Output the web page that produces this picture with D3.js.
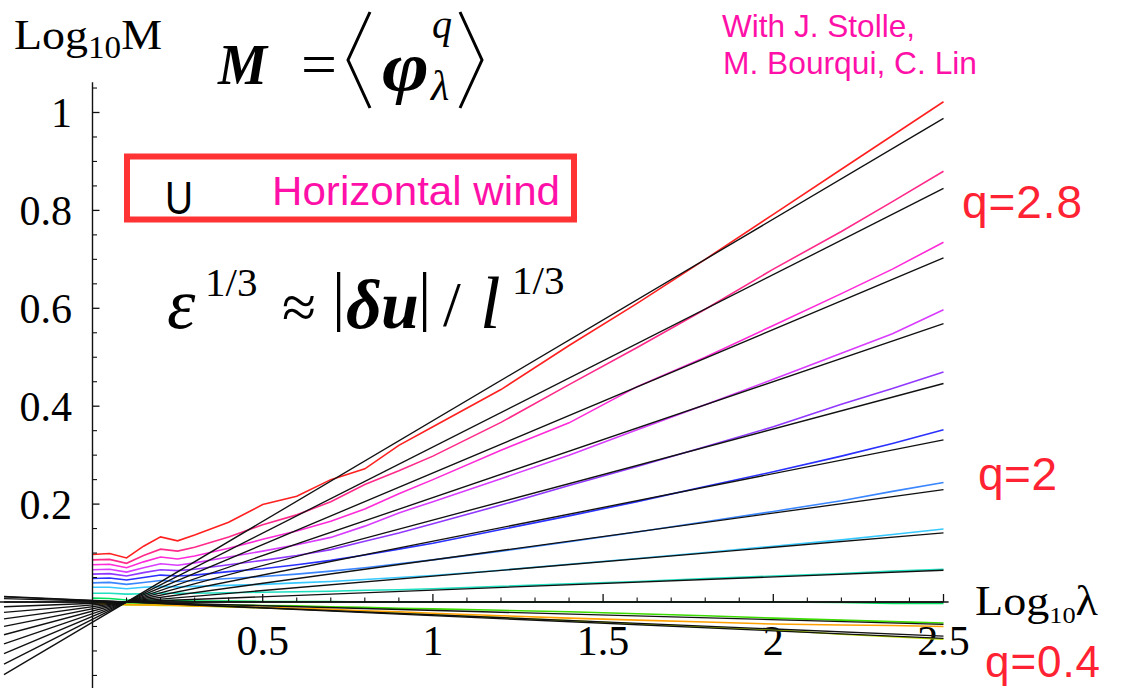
<!DOCTYPE html>
<html>
<head>
<meta charset="utf-8">
<script src="https://d3js.org/d3.v7.min.js"></script>
<style>
  html, body { margin: 0; padding: 0; background: #fff; }
  svg { display: block; }
</style>
</head>
<body>
<svg id="chart" width="1135" height="688"></svg>
<script>
// Scale axis (log10 of the scale ratio lambda)
const logLambda = [0, 0.05, 0.1, 0.15, 0.2, 0.25, 0.3, 0.4, 0.5, 0.6, 0.7, 0.8, 0.9, 1.0, 1.2, 1.4, 1.6, 1.8, 2.0, 2.2, 2.35, 2.5];

// Moment order of each curve
const qValues = [2.8, 2.6, 2.4, 2.2, 2.0, 1.8, 1.6, 1.4, 1.2, 1.0, 0.8, 0.6, 0.4];

// log10 M(lambda) for each moment order
const m28 = [0.097, 0.099, 0.090, 0.114, 0.133, 0.125, 0.137, 0.163, 0.199, 0.216, 0.250, 0.272, 0.320, 0.358, 0.434, 0.524, 0.610, 0.700, 0.792, 0.884, 0.953, 1.022];
const m26 = [0.086, 0.087, 0.079, 0.095, 0.108, 0.104, 0.112, 0.133, 0.158, 0.178, 0.205, 0.240, 0.268, 0.298, 0.367, 0.444, 0.520, 0.598, 0.680, 0.757, 0.818, 0.880];
const m24 = [0.076, 0.077, 0.070, 0.082, 0.092, 0.088, 0.094, 0.110, 0.128, 0.145, 0.165, 0.190, 0.221, 0.250, 0.310, 0.366, 0.440, 0.500, 0.565, 0.630, 0.680, 0.735];
const m22 = [0.066, 0.067, 0.061, 0.070, 0.078, 0.075, 0.080, 0.092, 0.104, 0.117, 0.132, 0.155, 0.182, 0.205, 0.252, 0.300, 0.352, 0.403, 0.455, 0.508, 0.548, 0.597];
const m20 = [0.057, 0.058, 0.053, 0.060, 0.066, 0.064, 0.067, 0.076, 0.085, 0.095, 0.107, 0.124, 0.141, 0.160, 0.198, 0.238, 0.277, 0.317, 0.358, 0.404, 0.436, 0.470];
const m18 = [0.048, 0.049, 0.045, 0.050, 0.055, 0.053, 0.055, 0.062, 0.068, 0.076, 0.085, 0.096, 0.108, 0.120, 0.148, 0.176, 0.205, 0.236, 0.266, 0.298, 0.324, 0.352];
const m16 = [0.039, 0.040, 0.036, 0.040, 0.044, 0.042, 0.044, 0.048, 0.052, 0.057, 0.063, 0.070, 0.078, 0.086, 0.104, 0.123, 0.143, 0.164, 0.185, 0.207, 0.226, 0.244];
const m14 = [0.030, 0.030, 0.027, 0.030, 0.032, 0.031, 0.032, 0.034, 0.036, 0.039, 0.042, 0.046, 0.050, 0.054, 0.065, 0.077, 0.089, 0.101, 0.114, 0.127, 0.138, 0.149];
const m12 = [0.018, 0.018, 0.016, 0.017, 0.018, 0.018, 0.018, 0.019, 0.020, 0.021, 0.022, 0.024, 0.025, 0.027, 0.032, 0.037, 0.042, 0.048, 0.053, 0.058, 0.063, 0.067];
const m10 = [0.008, 0.007, 0.004, 0.004, 0.003, 0.003, 0.002, 0.002, 0.001, 0.001, 0.001, 0.000, 0.000, 0.000, 0.000, 0.000, 0.000, 0.000, 0.000, -0.001, -0.003, -0.003];
const m08 = [-0.002, -0.003, -0.004, -0.004, -0.005, -0.005, -0.005, -0.006, -0.007, -0.008, -0.010, -0.011, -0.013, -0.014, -0.017, -0.020, -0.024, -0.028, -0.033, -0.037, -0.040, -0.043];
const m06 = [-0.003, -0.004, -0.006, -0.006, -0.007, -0.007, -0.008, -0.010, -0.012, -0.014, -0.017, -0.020, -0.023, -0.026, -0.032, -0.038, -0.045, -0.051, -0.057, -0.066, -0.071, -0.076];
const m04 = [-0.003, -0.004, -0.005, -0.006, -0.006, -0.007, -0.008, -0.009, -0.011, -0.013, -0.015, -0.018, -0.020, -0.023, -0.028, -0.033, -0.037, -0.041, -0.045, -0.047, -0.048, -0.050];
const moments = [m28, m26, m24, m22, m20, m18, m16, m14, m12, m10, m08, m06, m04];

const curveColors = ["#ff2020", "#ff2a8a", "#ff2ad8", "#d83cff", "#9038ff", "#2a30ff", "#3a86ff", "#36c8ff", "#1ee0c0", "#00e060", "#3cdc00", "#b4dc00", "#ffa000"];

// Regression lines: slope K(q) and common outer scale (log10 lambda_eff)
const fitSlope = [0.4117, 0.352, 0.293, 0.237, 0.186, 0.138, 0.0956, 0.0588, 0.027, 0, -0.019, -0.029, -0.031];
const fitOuterScale = 0.1;
const fitSpan = [-0.26, 2.5];

// Axis ticks
const xTickValues = [0.5, 1, 1.5, 2, 2.5];
const xTickLabels = ["0.5", "1", "1.5", "2", "2.5"];
const yTickValues = [0.2, 0.4, 0.6, 0.8, 1];
const yTickLabels = ["0.2", "0.4", "0.6", "0.8", "1"];

const svg = d3.select("#chart");
const serif = "'Liberation Serif', 'Times New Roman', serif";
const sans = "'Liberation Sans', Arial, sans-serif";

const x = d3.scaleLinear().domain([0, 2.5]).range([92.5, 943.5]);
const y = d3.scaleLinear().domain([0, 1]).range([602, 112.5]);
const xMin = x.invert(0), xMax = 2.515;
const yMin = y.invert(688), yMax = 1.062;

// tick labels (drawn first so the curves pass over them)
svg.append("g").selectAll("text").data(xTickValues).join("text")
  .attr("x", d => x(d)).attr("y", 655)
  .attr("text-anchor", "middle")
  .attr("font-family", serif).attr("font-size", 42)
  .text((d, i) => xTickLabels[i]);

svg.append("g").selectAll("text").data(yTickValues).join("text")
  .attr("x", 72).attr("y", d => y(d) + 14.5)
  .attr("text-anchor", "end")
  .attr("font-family", serif).attr("font-size", 42)
  .text((d, i) => yTickLabels[i]);

// measured moment curves
const line = d3.line().x((d, i) => x(logLambda[i])).y(d => y(d));
svg.append("g").selectAll("path").data(moments).join("path")
  .attr("d", d => line(d))
  .attr("fill", "none")
  .attr("stroke", (d, i) => curveColors[i])
  .attr("stroke-width", 1.6);

// straight-line fits through the outer scale
svg.append("g").selectAll("line").data(fitSlope).join("line")
  .attr("x1", x(fitSpan[0])).attr("x2", x(fitSpan[1]))
  .attr("y1", k => y(k * (fitSpan[0] - fitOuterScale)))
  .attr("y2", k => y(k * (fitSpan[1] - fitOuterScale)))
  .attr("stroke", "#111").attr("stroke-width", 1.35);

// axes
const axisG = svg.append("g").attr("stroke", "#111");
axisG.append("line")
  .attr("x1", x(xMin)).attr("x2", x(xMax)).attr("y1", y(0)).attr("y2", y(0))
  .attr("stroke-width", 1.4);
axisG.append("line")
  .attr("x1", x(0)).attr("x2", x(0)).attr("y1", y(yMin)).attr("y2", y(yMax))
  .attr("stroke-width", 1.4);

const xMinor = d3.range(1, 26).map(v => v / 10).filter(v => !xTickValues.includes(v));
axisG.selectAll("line.xmaj").data(xTickValues).join("line").attr("class", "xmaj")
  .attr("x1", d => x(d)).attr("x2", d => x(d)).attr("y1", y(0)).attr("y2", y(0) - 8)
  .attr("stroke-width", 1.3);
axisG.selectAll("line.xmin").data(xMinor).join("line").attr("class", "xmin")
  .attr("x1", d => x(d)).attr("x2", d => x(d)).attr("y1", y(0)).attr("y2", y(0) - 4.5)
  .attr("stroke-width", 1.1);

const yMinor = d3.range(-3, 22).map(v => +(v * 0.05).toFixed(2)).filter(v => v !== 0 && !yTickValues.includes(v));
axisG.selectAll("line.ymaj").data(yTickValues).join("line").attr("class", "ymaj")
  .attr("x1", x(0)).attr("x2", x(0) + 7).attr("y1", d => y(d)).attr("y2", d => y(d))
  .attr("stroke-width", 1.3);
axisG.selectAll("line.ymin").data(yMinor).join("line").attr("class", "ymin")
  .attr("x1", x(0)).attr("x2", x(0) + 4.5).attr("y1", d => y(d)).attr("y2", d => y(d))
  .attr("stroke-width", 1.1);

// axis titles
const yTitle = svg.append("text").attr("x", 14).attr("y", 49)
  .attr("font-family", serif).attr("font-size", 43)
  .attr("textLength", 148).attr("lengthAdjust", "spacingAndGlyphs");
yTitle.append("tspan").text("Log");
yTitle.append("tspan").attr("font-size", 31).attr("dy", 9).text("10");
yTitle.append("tspan").attr("dy", -9).text("M");

const xTitle = svg.append("text").attr("x", 975).attr("y", 615)
  .attr("font-family", serif).attr("font-size", 42)
  .attr("textLength", 123).attr("lengthAdjust", "spacingAndGlyphs");
xTitle.append("tspan").text("Log");
xTitle.append("tspan").attr("font-size", 24).attr("dy", 8).text("10");
xTitle.append("tspan").attr("dy", -8).text("λ");

// M = <phi_lambda^q>
const mathG = svg.append("g").attr("font-family", serif);
mathG.append("text").attr("x", 218).attr("y", 84).attr("font-size", 56)
  .attr("font-style", "italic").attr("font-weight", "bold")
  .attr("textLength", 49).attr("lengthAdjust", "spacingAndGlyphs").text("M");
mathG.append("text").attr("x", 301).attr("y", 84).attr("font-size", 60)
  .attr("textLength", 36).attr("lengthAdjust", "spacingAndGlyphs").text("=");
mathG.append("path").attr("d", "M370,12 L348,60 L370,108")
  .attr("fill", "none").attr("stroke", "#000").attr("stroke-width", 3);
mathG.append("text").attr("x", 382).attr("y", 90).attr("font-size", 70)
  .attr("font-style", "italic").attr("font-weight", "bold")
  .attr("textLength", 47).attr("lengthAdjust", "spacingAndGlyphs").text("φ");
mathG.append("text").attr("x", 432).attr("y", 38).attr("font-size", 40)
  .attr("font-style", "italic").text("q");
mathG.append("text").attr("x", 431).attr("y", 100).attr("font-size", 42)
  .attr("font-style", "italic").text("λ");
mathG.append("path").attr("d", "M460,12 L482,60 L460,108")
  .attr("fill", "none").attr("stroke", "#000").attr("stroke-width", 3);

// eps^(1/3) ~ |du| / l^(1/3)
const epsG = svg.append("g").attr("font-family", serif);
epsG.append("text").attr("x", 167).attr("y", 328).attr("font-size", 72)
  .attr("font-style", "italic").text("ε");
epsG.append("text").attr("x", 205).attr("y", 296).attr("font-size", 41).text("1/3");
epsG.append("text").attr("x", 282).attr("y", 328).attr("font-size", 62).text("≈");
epsG.append("text").attr("x", 332).attr("y", 318).attr("font-size", 66).text("|");
epsG.append("text").attr("x", 346).attr("y", 328).attr("font-size", 70)
  .attr("font-style", "italic").attr("font-weight", "bold").text("δ");
epsG.append("text").attr("x", 381).attr("y", 328).attr("font-size", 68)
  .attr("font-style", "italic").attr("font-weight", "bold").text("u");
epsG.append("text").attr("x", 418).attr("y", 318).attr("font-size", 66).text("|");
epsG.append("text").attr("x", 443).attr("y", 326).attr("font-size", 64).text("/");
epsG.append("text").attr("x", 480).attr("y", 328).attr("font-size", 74)
  .attr("font-style", "italic").text("l");
epsG.append("text").attr("x", 512).attr("y", 294).attr("font-size", 41).text("1/3");

// boxed variable label
svg.append("rect").attr("x", 127).attr("y", 156.5).attr("width", 447).attr("height", 63)
  .attr("fill", "none").attr("stroke", "#ff3333").attr("stroke-width", 6);
svg.append("text").attr("x", 165).attr("y", 214)
  .attr("font-family", sans).attr("font-size", 46)
  .attr("textLength", 28).attr("lengthAdjust", "spacingAndGlyphs").text("U");
svg.append("text").attr("x", 272).attr("y", 205)
  .attr("font-family", sans).attr("font-size", 41).attr("fill", "#ff10a8")
  .attr("textLength", 288).attr("lengthAdjust", "spacingAndGlyphs")
  .text("Horizontal wind");

// credits
svg.append("text").attr("x", 722).attr("y", 37)
  .attr("font-family", sans).attr("font-size", 30.5).attr("fill", "#ff10a8")
  .attr("textLength", 193).attr("lengthAdjust", "spacingAndGlyphs")
  .text("With J. Stolle,");
svg.append("text").attr("x", 723).attr("y", 74)
  .attr("font-family", sans).attr("font-size", 30.5).attr("fill", "#ff10a8")
  .attr("textLength", 254).attr("lengthAdjust", "spacingAndGlyphs")
  .text("M. Bourqui, C. Lin");

// moment order annotations
const qLabelG = svg.append("g").attr("font-family", sans).attr("font-size", 46).attr("fill", "#ff2233")
  .attr("lengthAdjust", "spacingAndGlyphs");
qLabelG.append("text").attr("x", 962).attr("y", 218).attr("textLength", 120).text("q=2.8");
qLabelG.append("text").attr("x", 978).attr("y", 490).attr("textLength", 79).text("q=2");
qLabelG.append("text").attr("x", 985).attr("y", 677).attr("font-size", 44).attr("textLength", 115).text("q=0.4");
</script>
</body>
</html>
